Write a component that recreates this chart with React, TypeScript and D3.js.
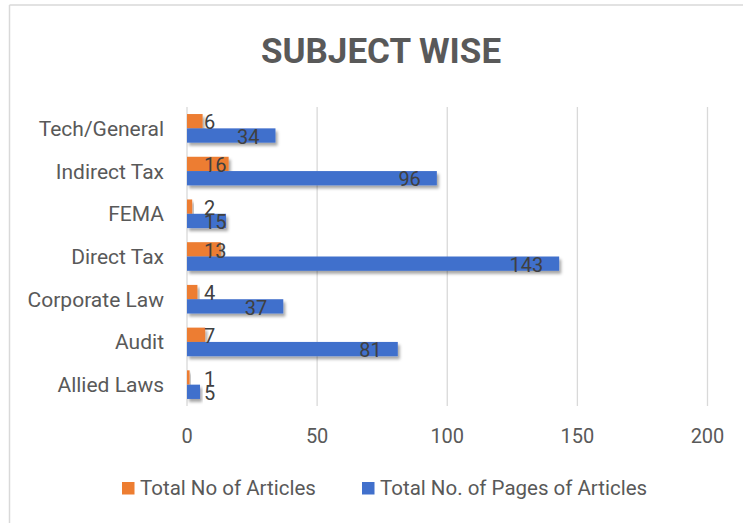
import React from "react";
import * as d3 from "d3";

const categories = [
  "Tech/General",
  "Indirect Tax",
  "FEMA",
  "Direct Tax",
  "Corporate Law",
  "Audit",
  "Allied Laws",
];
const articles = [6, 16, 2, 13, 4, 7, 1];
const pages = [34, 96, 15, 143, 37, 81, 5];
const seriesNames = ["Total No of Articles", "Total No. of Pages of Articles"];
const ticks = [0, 50, 100, 150, 200];

const WIDTH = 743;
const HEIGHT = 523;
const COLORS = ["#ED7D31", "#4170CC"];
const FONT = "Roboto, 'Noto Sans', sans-serif";

export default function App() {
  const x = d3.scaleLinear().domain([0, 200]).range([187, 707.5]);
  const y = d3
    .scaleBand<string>()
    .domain(categories)
    .range([107, 406])
    .paddingInner(0.33)
    .paddingOuter(0.165);
  const inner = d3
    .scaleBand<number>()
    .domain([0, 1])
    .range([0, y.bandwidth()]);

  const series = [articles, pages];
  const labelSize = 20;
  const digitW = labelSize * 0.5615;

  return (
    <svg
      width={WIDTH}
      height={HEIGHT}
      style={{ position: "fixed", left: 0, top: 0, background: "#fff" }}
      fontFamily={FONT}
    >
      <defs>
        <filter id="shadow" x="-10%" y="-50%" width="130%" height="250%">
          <feDropShadow dx="2" dy="3" stdDeviation="1.6" floodColor="#000" floodOpacity="0.35" />
        </filter>
      </defs>
      <rect x={0} y={0} width={WIDTH} height={HEIGHT} fill="#fff" />
      <line x1={9.5} x2={9.5} y1={5} y2={HEIGHT} stroke="#D9D9D9" strokeWidth={1.5} />
      <line x1={9.5} x2={WIDTH} y1={5} y2={5} stroke="#D9D9D9" strokeWidth={1.5} />

      <text
        x={381}
        y={63}
        textAnchor="middle"
        fontSize={35}
        fontWeight={700}
        fill="#595959"
      >
        SUBJECT WISE
      </text>

      {ticks.map((t) => (
        <g key={t}>
          <line x1={x(t)} x2={x(t)} y1={107} y2={406} stroke="#D9D9D9" strokeWidth={1.3} />
          <text x={x(t)} y={443} textAnchor="middle" fontSize={20} fill="#595959">
            {t}
          </text>
        </g>
      ))}

      {categories.map((c) => (
        <text
          key={c}
          x={164}
          y={(y(c) ?? 0) + y.bandwidth() / 2}
          dy="0.36em"
          textAnchor="end"
          fontSize={21}
          fill="#595959"
        >
          {c}
        </text>
      ))}

      {series.map((vals, si) =>
        vals.map((v, i) => {
          const c = categories[i];
          const top = (y(c) ?? 0) + (inner(si) ?? 0);
          return (
            <rect
              key={`${si}-${c}`}
              x={x(0)}
              y={top}
              width={x(v) - x(0)}
              height={inner.bandwidth()}
              fill={COLORS[si]}
              filter="url(#shadow)"
            />
          );
        })
      )}

      {series.map((vals, si) =>
        vals.map((v, i) => {
          const c = categories[i];
          const top = (y(c) ?? 0) + (inner(si) ?? 0);
          const w = String(v).length * digitW;
          const left = Math.max(x(0) + 17, x(v) - 16 - w);
          return (
            <text
              key={`l-${si}-${c}`}
              x={left}
              y={top + inner.bandwidth() / 2 + 1}
              dy="0.36em"
              fontSize={labelSize}
              fill="#404040"
            >
              {v}
            </text>
          );
        })
      )}

      {seriesNames.map((name, si) => {
        const sx = si === 0 ? 122 : 362;
        return (
          <g key={name}>
            <rect x={sx} y={482} width={12.5} height={12.5} fill={COLORS[si]} />
            <text x={sx + 18} y={495} fontSize={20.5} fill="#595959">
              {name}
            </text>
          </g>
        );
      })}
    </svg>
  );
}
